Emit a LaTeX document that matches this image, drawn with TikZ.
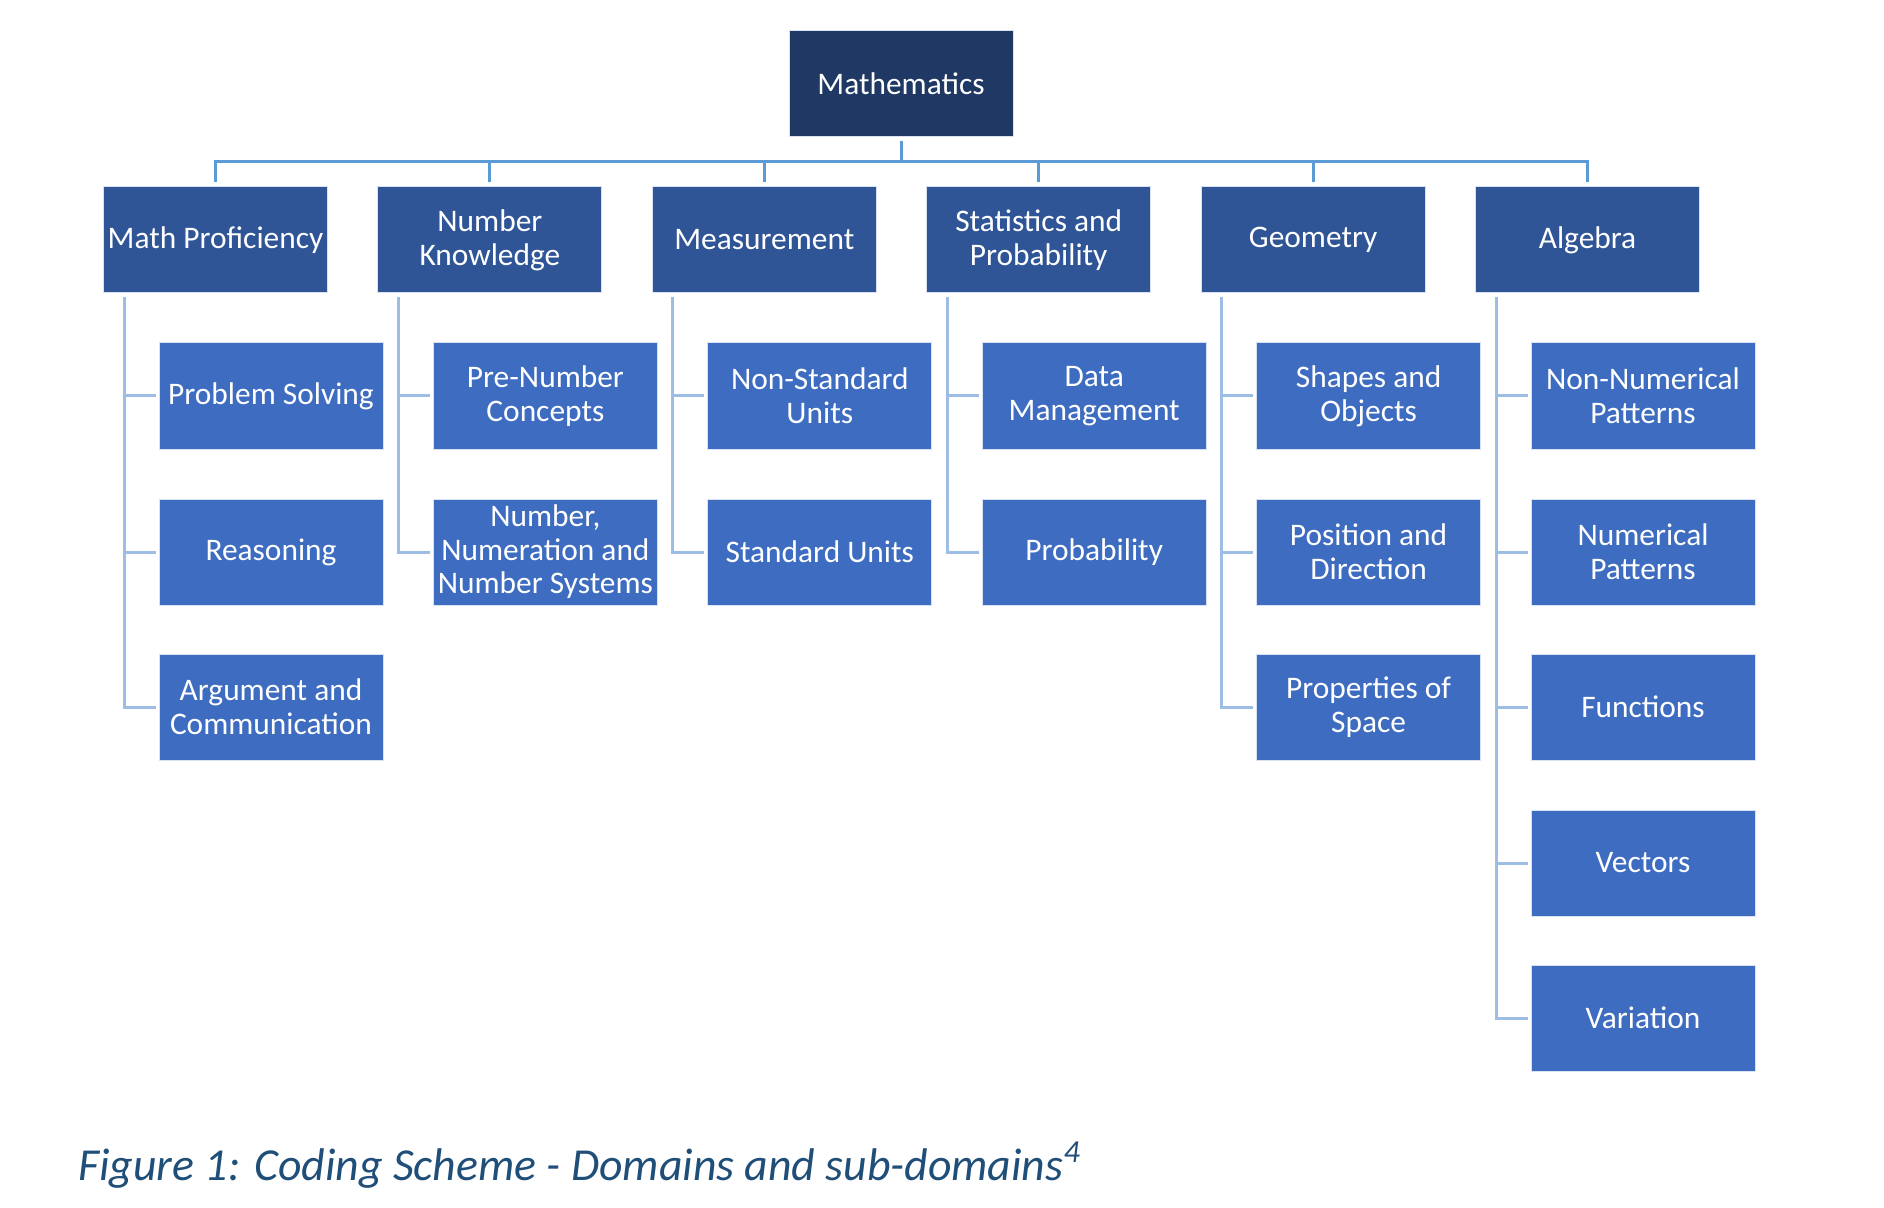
\documentclass[tikz,border=0pt]{standalone}
\usepackage{fontspec}
\setmainfont{Carlito}
\usetikzlibrary{positioning}
\definecolor{rootnavy}{HTML}{1F3864}
\definecolor{domainblue}{HTML}{2F5597}
\definecolor{subblue}{HTML}{3D6CC0}
\definecolor{busblue}{HTML}{5B9BD5}
\definecolor{treeblue}{HTML}{9DBDE5}
\definecolor{captionblue}{HTML}{1F4E79}
\tikzset{
  box/.style={draw=white!80!subblue, line width=0.5pt, text=white, align=center,
    minimum width=112pt, minimum height=53pt, inner xsep=1pt, inner ysep=2pt,
    font=\fontsize{15.7}{16.8}\selectfont},
  rootbox/.style={box, fill=rootnavy},
  domainbox/.style={box, fill=domainblue},
  subbox/.style={box, fill=subblue},
  bus/.style={busblue, line width=1.5pt},
  tree/.style={treeblue, line width=1.5pt}
}
\begin{document}
\begin{tikzpicture}[x=0.5pt, y=-0.5pt]
	% page
	\useasboundingbox (0,0) rectangle (1884,1208);

	% root
	\node[rootbox] (math) at (901,84) {Mathematics};
	\coordinate (bus) at (901,162);

	% domains
	\node[domainbox] (prof) at (215.5,240) {Math Proficiency};
	\node[domainbox] (numk) at (489.9,240) {Number\\Knowledge};
	\node[domainbox] (meas) at (764.3,240) {Measurement};
	\node[domainbox] (stat) at (1038.7,240) {Statistics and\\Probability};
	\node[domainbox] (geom) at (1313.1,240) {Geometry};
	\node[domainbox] (alg) at (1587.5,240) {Algebra};

	% sub-domains
	\node[subbox] (prof1) at (271,396) {Problem Solving};
	\node[subbox] (prof2) at (271,552) {Reasoning};
	\node[subbox] (prof3) at (271,707) {Argument and\\Communication};
	\node[subbox] (numk1) at (545.4,396) {Pre-Number\\Concepts};
	\node[subbox] (numk2) at (545.4,552) {Number,\\Numeration and\\Number Systems};
	\node[subbox] (meas1) at (819.8,396) {Non-Standard\\Units};
	\node[subbox] (meas2) at (819.8,552) {Standard Units};
	\node[subbox] (stat1) at (1094.2,396) {Data\\Management};
	\node[subbox] (stat2) at (1094.2,552) {Probability};
	\node[subbox] (geom1) at (1368.6,396) {Shapes and\\Objects};
	\node[subbox] (geom2) at (1368.6,552) {Position and\\Direction};
	\node[subbox] (geom3) at (1368.6,707) {Properties of\\Space};
	\node[subbox] (alg1) at (1643,396) {Non-Numerical\\Patterns};
	\node[subbox] (alg2) at (1643,552) {Numerical\\Patterns};
	\node[subbox] (alg3) at (1643,707) {Functions};
	\node[subbox] (alg4) at (1643,863) {Vectors};
	\node[subbox] (alg5) at (1643,1018) {Variation};

	% bus
	\draw[bus] ([yshift=-2pt]math.south) -- (bus);
	\foreach \d in {prof,numk,meas,stat,geom,alg}
		\draw[bus] ([yshift=2pt]\d.north) |- (bus);

	% trees
	\foreach \d/\c in {prof/prof1,prof/prof2,prof/prof3,numk/numk1,numk/numk2,
		meas/meas1,meas/meas2,stat/stat1,stat/stat2,geom/geom1,geom/geom2,geom/geom3,
		alg/alg1,alg/alg2,alg/alg3,alg/alg4,alg/alg5}
		\draw[tree] ([xshift=-45.75pt, yshift=-2pt]\d.south) |- ([xshift=-1.5pt]\c.west);

	% caption
	\node[anchor=west, inner sep=0pt, text=captionblue, font=\fontsize{22.9}{27}\selectfont\itshape] (caption) at (78,1165)
		{Figure 1: Coding Scheme - Domains and sub-domains\textsuperscript{4}};
\end{tikzpicture}
\end{document}
